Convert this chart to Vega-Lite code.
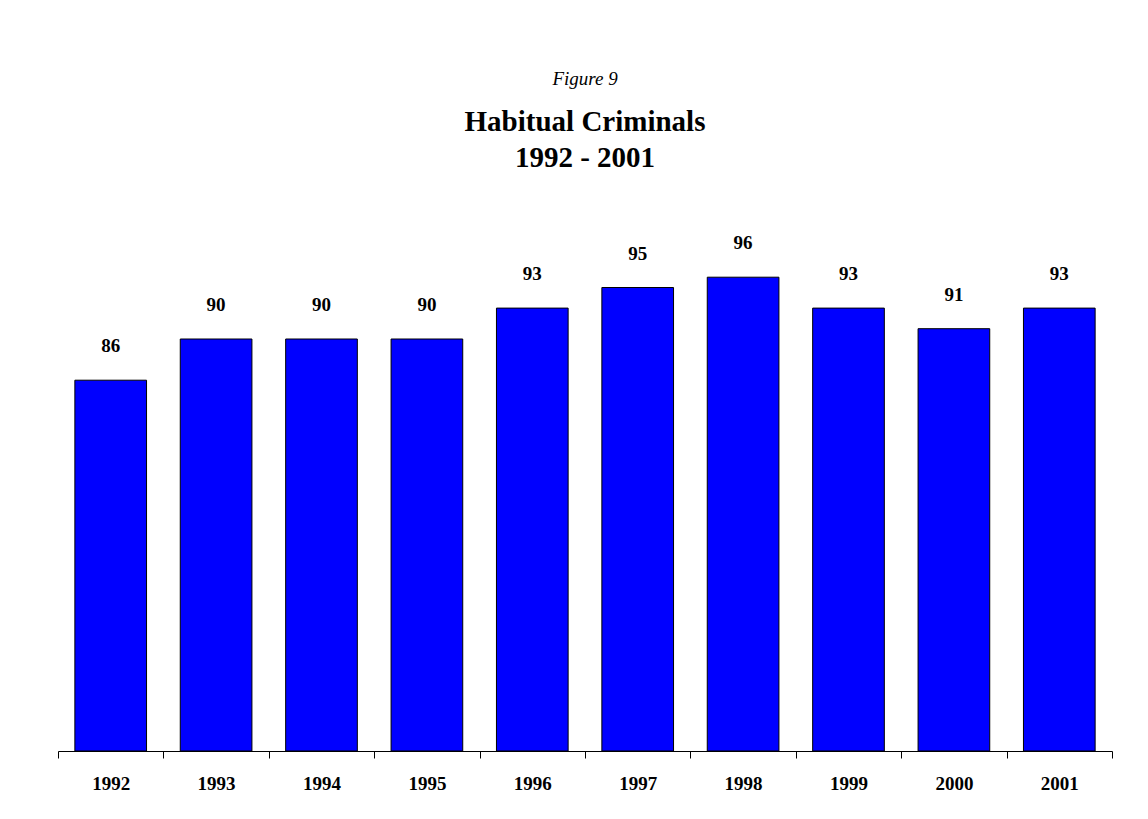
{
  "$schema": "https://vega.github.io/schema/vega-lite/v6.json",
  "width": 1054,
  "height": 515,
  "autosize": {"type": "none"},
  "padding": {"left": 58, "top": 236, "right": 36, "bottom": 68},
  "background": "white",
  "config": {"view": {"stroke": null}, "font": "Liberation Serif"},
  "title": {
    "text": "Figure 9",
    "subtitle": ["Habitual Criminals", "1992 - 2001"],
    "anchor": "middle",
    "frame": "group",
    "font": "Liberation Serif",
    "fontSize": 19,
    "fontStyle": "italic",
    "fontWeight": "normal",
    "color": "black",
    "subtitleFont": "Liberation Serif",
    "subtitleFontSize": 29,
    "subtitleFontWeight": "bold",
    "subtitleColor": "black",
    "subtitleLineHeight": 36,
    "subtitlePadding": 19,
    "offset": 61
  },
  "data": {
    "values": [
      {"year": "1992", "value": 86},
      {"year": "1993", "value": 90},
      {"year": "1994", "value": 90},
      {"year": "1995", "value": 90},
      {"year": "1996", "value": 93},
      {"year": "1997", "value": 95},
      {"year": "1998", "value": 96},
      {"year": "1999", "value": 93},
      {"year": "2000", "value": 91},
      {"year": "2001", "value": 93}
    ]
  },
  "encoding": {
    "x": {
      "field": "year",
      "type": "ordinal",
      "scale": {"paddingInner": 0, "paddingOuter": 0},
      "axis": {
        "title": null,
        "labelAngle": 0,
        "domainColor": "black",
        "domainWidth": 1,
        "tickColor": "black",
        "tickWidth": 1,
        "tickSize": 7,
        "tickBand": "extent",
        "labelFont": "Liberation Serif",
        "labelFontSize": 19,
        "labelFontWeight": "bold",
        "labelColor": "black",
        "labelBaseline": "middle",
        "labelPadding": 25
      }
    },
    "y": {
      "field": "value",
      "type": "quantitative",
      "scale": {"domain": [50, 100], "nice": false, "zero": false},
      "axis": null
    }
  },
  "layer": [
    {
      "mark": {"type": "bar", "color": "#0000FF", "stroke": "black", "strokeWidth": 1, "width": {"band": 0.68}},
      "encoding": {"y2": {"datum": 50}}
    },
    {
      "mark": {"type": "text", "dy": -34, "baseline": "middle", "fontWeight": "bold", "fontSize": 19, "font": "Liberation Serif", "color": "black"},
      "encoding": {"text": {"field": "value"}}
    }
  ]
}
